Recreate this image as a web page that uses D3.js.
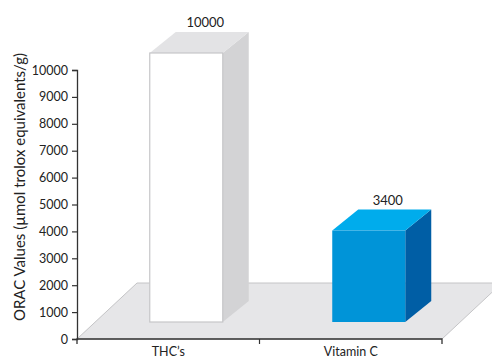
<!DOCTYPE html>
<html>
<head>
<meta charset="utf-8">
<script src="https://cdn.jsdelivr.net/npm/d3@7"></script>
<style>
  html, body { margin: 0; padding: 0; background: #fff; }
  svg { display: block; font-family: Lato, "Open Sans", sans-serif; }
</style>
</head>
<body>
<svg id="chart" width="492" height="361"></svg>
<script>
// ORAC values per sample
const categories = ["THC\u2019s", "Vitamin C"];
const values = [10000, 3400];
const yTicks = [0, 1000, 2000, 3000, 4000, 5000, 6000, 7000, 8000, 9000, 10000];
const yTitle = "ORAC Values (\u00b5mol trolox equivalents/g)";

const faceColors = [
  { front: "#ffffff", top: "#e3e3e5", side: "#d3d3d5", stroke: "#c6c6c8" },
  { front: "#0094d8", top: "#00acec", side: "#005ea5", stroke: "none" }
];

const svg = d3.select("#chart");
const plotLeft = 77, plotRight = 442, plotBottom = 339, plotTop = 70;

const x = d3.scaleBand().domain(categories).range([plotLeft, plotRight]);
const y = d3.scaleLinear().domain([0, 10000]).range([plotBottom, plotTop]);

// Perspective offsets for the floor and the bars
const floorDepth = [60, -56];
const barFront = [18, -17];
const barDepth = [26, -21];
const barFrac = 0.4;

// Floor
const fx0 = plotLeft, fx1 = plotRight;
svg.append("path")
  .attr("d", `M${fx0},${plotBottom} L${fx0 + floorDepth[0]},${plotBottom + floorDepth[1]} L${fx1 + floorDepth[0]},${plotBottom + floorDepth[1]} L${fx1},${plotBottom} Z`)
  .attr("fill", "#e6e6e8")
  .attr("stroke", "#c4c4c6")
  .attr("stroke-width", 1);

// Bars
const bars = svg.append("g");
categories.forEach((c, i) => {
  const bw = x.bandwidth() * barFrac;
  const x0 = x(c) + (x.bandwidth() - bw) / 2 + barFront[0];
  const x1 = x0 + bw;
  const yb = plotBottom + barFront[1];
  const yt = y(values[i]) + barFront[1];
  const [dx, dy] = barDepth;
  const col = faceColors[i];
  const g = bars.append("g");
  g.append("path")
    .attr("d", `M${x1},${yt} L${x1 + dx},${yt + dy} L${x1 + dx},${yb + dy} L${x1},${yb} Z`)
    .attr("fill", col.side);
  g.append("path")
    .attr("d", `M${x0},${yt} L${x0 + dx},${yt + dy} L${x1 + dx},${yt + dy} L${x1},${yt} Z`)
    .attr("fill", col.top);
  g.append("rect")
    .attr("x", x0).attr("y", yt)
    .attr("width", bw).attr("height", yb - yt)
    .attr("fill", col.front)
    .attr("stroke", col.stroke)
    .attr("stroke-width", col.stroke === "none" ? 0 : 1.2);
  g.append("text")
    .attr("x", (x0 + x1) / 2 + 19)
    .attr("y", yt + dy - 5)
    .attr("text-anchor", "middle")
    .attr("font-size", 13)
    .attr("fill", "#222")
    .text(values[i]);
});

// Axes
const yAxis = d3.axisLeft(y).tickValues(yTicks).tickSize(5).tickPadding(4).tickFormat(d3.format("d"));
const gy = svg.append("g").attr("transform", `translate(${plotLeft},0)`).call(yAxis);
gy.select(".domain").attr("stroke", "#333").attr("stroke-width", 1.3);
gy.selectAll(".tick line").attr("stroke", "#333").attr("stroke-width", 1.2);
gy.selectAll(".tick text").attr("font-size", 12.5).attr("fill", "#222").attr("font-family", "Lato, sans-serif");

const xAxis = d3.axisBottom(x).tickSize(0).tickPadding(8);
const gx = svg.append("g").attr("transform", `translate(0,${plotBottom})`).call(xAxis);
gx.select(".domain").attr("stroke", "#333").attr("stroke-width", 1.3)
  .attr("d", `M${plotLeft},5V0H${plotRight}V5`);
gx.selectAll(".tick text").attr("font-size", 12.5).attr("fill", "#222").attr("font-family", "Lato, sans-serif")
  .attr("dy", "0.71em");
// Category separators on the x axis
gx.selectAll(".sep").data([x(categories[1])]).join("line")
  .attr("x1", d => d).attr("x2", d => d).attr("y1", 0).attr("y2", 5)
  .attr("stroke", "#333").attr("stroke-width", 1.2);

// Y axis title
svg.append("text")
  .attr("transform", `translate(25,187) rotate(-90)`)
  .attr("text-anchor", "middle")
  .attr("font-size", 15)
  .attr("fill", "#222")
  .text(yTitle);
</script>
</body>
</html>
